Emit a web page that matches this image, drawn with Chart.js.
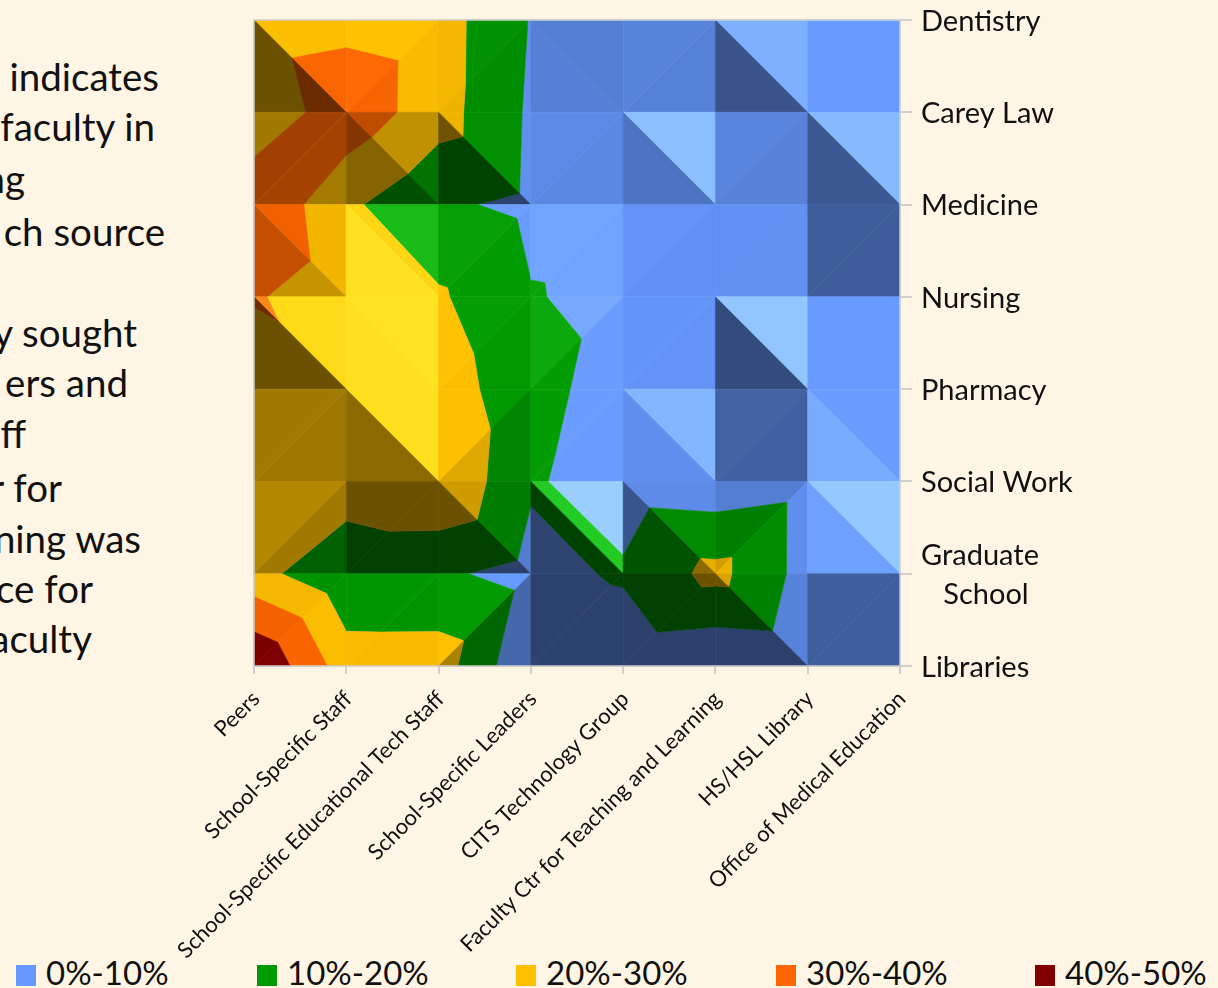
<!DOCTYPE html>
<html>
<head>
<meta charset="utf-8">
<title>Support sources</title>
<script src="https://cdn.jsdelivr.net/npm/chart.js@4"></script>
<style>
    html, body { margin: 0; padding: 0; background: #fff5e4; overflow: hidden; }
    #wrap { position: relative; width: 1218px; height: 988px; }
    #myChart { position: absolute; left: 0; top: 0; }
    #notes span { position: absolute; font: 38.5px Lato, sans-serif; color: #111; white-space: pre; transform: translateY(-50%); }
    #legend span { position: absolute; top: 951px; font: 33px/42px Lato, sans-serif; color: #111; white-space: pre; }
    #legend i { position: absolute; top: 965px; width: 20px; height: 21px; }
</style>
</head>
<body>
<div id="wrap">
    <div id="notes"></div>
    <div id="legend"></div>
    <canvas id="myChart" width="1218" height="988"></canvas>
</div>
<script>
// support sources along the bottom, schools down the side
const sources = ['Peers', 'School-Specific Staff', 'School-Specific Educational Tech Staff', 'School-Specific Leaders',
    'CITS Technology Group', 'Faculty Ctr for Teaching and Learning', 'HS/HSL Library', 'Office of Medical Education'];
const schools = ['Dentistry', 'Carey Law', 'Medicine', 'Nursing', 'Pharmacy', 'Social Work', ['Graduate', '\u00a0\u00a0\u00a0School'], 'Libraries'];

// percent of faculty, one row per school
const dentistry = [25.1, 27, 24.5, 9.5, 9.85, 9.9, 8.85, 9];
const careyLaw = [21.1, 37, 24.3, 8.5, 8.8, 7.2, 9.3, 8.05];
const medicine = [39.4, 22, 11.5, 8, 7.5, 8.2, 7, 8.9];
const nursing = [31, 24, 21.3, 10.45, 7.85, 6.65, 5.2, 6.6];
const pharmacy = [22.1, 27.3, 25.9, 12.6, 6.5, 3.8, 6.95, 5.3];
const socialWork = [23.7, 26.1, 29.5, 11.2, 4.8, 3.5, 6.2, 4.05];
const graduate = [23.5, 11.9, 11.6, 6.7, 11.3, 23, 6.1, 5.5];
const libraries = [49.7, 24.9, 25, 1, 2.5, 0.5, 2, 2];
const rows = [dentistry, careyLaw, medicine, nursing, pharmacy, socialWork, graduate, libraries];

const bandLabels = ['0%-10%', '10%-20%', '20%-30%', '30%-40%', '40%-50%'];
const bandLimits = [0, 10, 20, 30, 40, 50];
const bandColors = ['#6699ff', '#009900', '#ffc000', '#ff6600', '#800000'];
const bandTips = ['#a8deff', '#30da30', '#ffea28', '#ff9a2a', '#c83030'];

// which way each grid cell is split into two triangles
const splits = [
    '\\//\\/\\/',
    '/\\\\/\\/\\',
    '\\\\/////',
    '\\\\///\\/',
    '/\\//\\/\\',
    '//\\\\\\/\\',
    '/////\\/'
];

// the text cut off by the left edge of the slide
const noteLines = ['indicates', 'faculty in', 'ng', 'ch source', 'y sought', 'ers and', 'ff', 'r for', 'ning was', 'ce for', 'aculty'];
const noteRight = [159, 155, 25, 165, 137, 128, 26, 62, 141, 93, 92];
const noteTop = [76, 126, 178, 231, 332, 382, 433, 487, 538, 588, 638];
const legendLeft = [16, 257, 516, 776, 1035];

noteLines.forEach((line, i) => {
    const span = document.createElement('span');
    span.textContent = line;
    span.style.right = (1218 - noteRight[i]) + 'px';
    span.style.top = noteTop[i] + 'px';
    document.getElementById('notes').appendChild(span);
});

bandLabels.forEach((label, i) => {
    const box = document.createElement('i');
    box.style.left = legendLeft[i] + 'px';
    box.style.background = bandColors[i];
    const text = document.createElement('span');
    text.textContent = label;
    text.style.left = (legendLeft[i] + 30) + 'px';
    document.getElementById('legend').append(box, text);
});

function hexToRgb(hex) {
    return [1, 3, 5].map(i => parseInt(hex.substr(i, 2), 16));
}

// facets facing up and to the right catch the light, the others fall dark
function shade(band, gx, gy, glow) {
    const base = hexToRgb(bandColors[band]);
    const tip = hexToRgb(bandTips[band]);
    const u = gy - gx + 0.03 * (gx + gy);
    const v = Math.abs(gx + gy);
    const loss = 1 - 0.38 * (1 - Math.exp(-Math.pow(v / 25, 4)));
    let out;
    if (u >= 0) {
        const w = Math.tanh(u / 4) * Math.exp(-Math.pow(v / 7, 2) - Math.pow(Math.hypot(gx, gy) / 18, 2)) * glow;
        out = base.map((c, i) => (c + (tip[i] - c) * w) * loss);
    } else {
        const s = 1 - 0.58 * Math.tanh(-u / 4.5);
        out = base.map(c => c * Math.min(s, loss));
    }
    return 'rgb(' + out.map(Math.round).join(',') + ')';
}

// keep the part of a polygon on one side of a level
function clipLevel(poly, level, keepAbove) {
    const out = [];
    poly.forEach((p, i) => {
        const q = poly[(i + 1) % poly.length];
        const pIn = keepAbove ? p.z >= level : p.z <= level;
        const qIn = keepAbove ? q.z >= level : q.z <= level;
        if (pIn) out.push(p);
        if (pIn !== qIn) {
            const f = (level - p.z) / (q.z - p.z);
            out.push({ x: p.x + (q.x - p.x) * f, y: p.y + (q.y - p.y) * f, z: level });
        }
    });
    return out;
}

function drawFacet(ctx, tri, gx, gy, glow) {
    bandColors.forEach((color, band) => {
        let poly = clipLevel(tri, bandLimits[band], true);
        if (poly.length) poly = clipLevel(poly, bandLimits[band + 1], false);
        if (poly.length < 3) return;
        const fill = shade(band, gx, gy, glow);
        ctx.beginPath();
        poly.forEach((p, i) => i ? ctx.lineTo(p.x, p.y) : ctx.moveTo(p.x, p.y));
        ctx.closePath();
        ctx.fillStyle = fill;
        ctx.strokeStyle = fill;
        ctx.lineWidth = 0.6;
        ctx.fill();
        ctx.stroke();
    });
}

const surfacePlugin = {
    id: 'surface',
    beforeDatasetsDraw(chart) {
        const ctx = chart.ctx;
        const xs = chart.scales.x;
        const ys = chart.scales.y;
        const node = (r, c) => ({ x: xs.getPixelForValue(c), y: ys.getPixelForValue(r), z: rows[r][c] });
        ctx.save();
        for (let r = 0; r < rows.length - 1; r++) {
            for (let c = 0; c < sources.length - 1; c++) {
                const a = node(r, c), b = node(r, c + 1), d = node(r + 1, c), e = node(r + 1, c + 1);
                if (splits[r][c] === '\\') {
                    drawFacet(ctx, [a, b, e], b.z - a.z, e.z - b.z, 1);
                    drawFacet(ctx, [a, d, e], e.z - d.z, d.z - a.z, 1);
                } else {
                    // cells split this way only ever pick up a little of the light
                    drawFacet(ctx, [a, b, d], b.z - a.z, d.z - a.z, 0.3);
                    drawFacet(ctx, [b, d, e], e.z - d.z, e.z - b.z, 0.3);
                }
            }
        }
        const area = chart.chartArea;
        ctx.strokeStyle = '#cfcfcf';
        ctx.lineWidth = 1.5;
        ctx.strokeRect(area.left, area.top, area.right - area.left, area.bottom - area.top);
        ctx.restore();
    }
};

window.onload = function() {
    const ctx = document.getElementById('myChart').getContext('2d');
    new Chart(ctx, {
        type: 'scatter',
        data: { datasets: [{ label: 'faculty', data: [] }] },
        plugins: [surfacePlugin],
        options: {
            responsive: false,
            animation: false,
            layout: { padding: { top: 20 } },
            plugins: {
                tooltip: { enabled: false },
                legend: { display: false }
            },
            scales: {
                x: {
                    type: 'linear',
                    min: 0,
                    max: 7,
                    afterFit(scale) {
                        scale.height = 322;
                        scale.paddingLeft = 0;
                        scale.paddingRight = 0;
                    },
                    grid: { drawOnChartArea: false, color: '#cfcfcf', lineWidth: 2, tickLength: 8 },
                    border: { display: false },
                    ticks: {
                        stepSize: 1,
                        autoSkip: false,
                        minRotation: 45,
                        maxRotation: 45,
                        color: '#111',
                        padding: 12,
                        labelOffset: 2,
                        font: { family: 'Lato', size: 22 },
                        callback: value => sources[value]
                    }
                },
                y: {
                    type: 'linear',
                    position: 'right',
                    reverse: true,
                    min: 0,
                    max: 7,
                    afterFit(scale) {
                        scale.width = 318;
                        scale.paddingTop = 0;
                        scale.paddingBottom = 0;
                    },
                    grid: { drawOnChartArea: false, color: '#cfcfcf', lineWidth: 2, tickLength: 12 },
                    border: { display: false },
                    ticks: {
                        stepSize: 1,
                        autoSkip: false,
                        color: '#111',
                        padding: 9,
                        labelOffset: 1.5,
                        font: { family: 'Lato', size: 29, lineHeight: 1.35 },
                        callback: value => schools[value]
                    }
                },
                // empty axis that holds the room for the text on the left
                spacer: {
                    type: 'linear',
                    position: 'left',
                    min: 0,
                    max: 1,
                    afterFit(scale) {
                        scale.width = 254;
                    },
                    grid: { display: false },
                    border: { display: false },
                    ticks: { display: false }
                }
            }
        }
    });
};
</script>
</body>
</html>
